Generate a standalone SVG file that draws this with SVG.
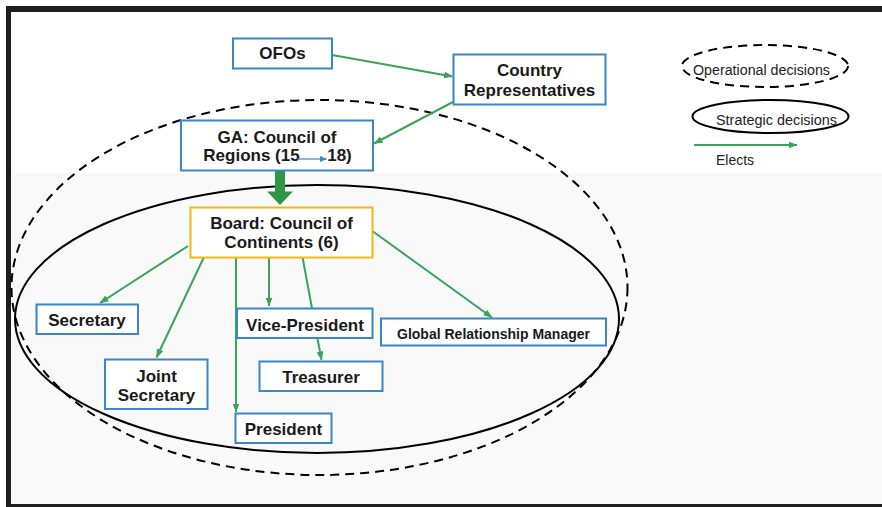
<svg xmlns="http://www.w3.org/2000/svg" width="882" height="507" viewBox="0 0 882 507">
  <defs>
    <style>
      .box { fill: #ffffff; stroke: #3b86c8; stroke-width: 2; }
      .board { fill: #ffffff; stroke: #f0b81a; stroke-width: 2; }
      .lbl { font-family: "Liberation Sans", Arial, sans-serif; font-weight: bold; font-size: 17px; fill: #1a1a1a; text-anchor: middle; }
      .lbl-sm { font-family: "Liberation Sans", Arial, sans-serif; font-weight: bold; font-size: 14px; fill: #1a1a1a; text-anchor: middle; }
      .legend { font-family: "Liberation Sans", Arial, sans-serif; font-size: 14px; fill: #222222; }
      .elect { stroke: #3aa55a; stroke-width: 2; fill: none; marker-end: url(#head); }
      .oval { fill: none; stroke: #000000; stroke-width: 2; }
      .dashed { stroke-dasharray: 9 6; }
    </style>
    <marker id="head" markerUnits="userSpaceOnUse" markerWidth="9" markerHeight="7" refX="8.5" refY="3.5" orient="auto">
      <path d="M0,0 L9,3.5 L0,7 z" fill="#3aa55a"/>
    </marker>
    <marker id="bluehead" markerUnits="userSpaceOnUse" markerWidth="7" markerHeight="6" refX="6.5" refY="3" orient="auto">
      <path d="M0,0 L7,3 L0,6 z" fill="#3b86c8"/>
    </marker>
  </defs>

  <!-- page background and frame -->
  <rect x="0" y="0" width="882" height="507" fill="#ffffff"/>
  <rect x="11" y="173" width="871" height="331" fill="#f9f9f9"/>
  <rect x="6" y="6" width="876" height="6" fill="#1e1e1e"/>
  <rect x="6" y="6" width="5" height="501" fill="#1e1e1e"/>
  <rect x="6" y="504" width="876" height="3" fill="#1e1e1e"/>

  <!-- decision scopes -->
  <g id="scopes">
    <ellipse class="oval dashed" cx="319.5" cy="287.5" rx="308" ry="187.5"/>
    <ellipse class="oval" cx="317" cy="319" rx="302" ry="134"/>
  </g>

  <!-- election links -->
  <g id="connectors">
    <line class="elect" x1="332" y1="55" x2="452.5" y2="76.5"/>
    <line class="elect" x1="453" y1="102" x2="374" y2="143.5"/>
    <line class="elect" x1="188" y1="246" x2="100" y2="303"/>
    <line class="elect" x1="204" y1="257" x2="156.5" y2="357.5"/>
    <line class="elect" x1="236" y1="257" x2="236" y2="412"/>
    <line class="elect" x1="269" y1="257" x2="269" y2="306"/>
    <line class="elect" x1="302.5" y1="257" x2="321.5" y2="360"/>
    <line class="elect" x1="373" y1="231.5" x2="492" y2="317.5"/>
    <!-- GA forms the Board -->
    <path id="ga-to-board" d="M275,171 L285,171 L285,191.5 L293,191.5 L280,205 L267,191.5 L275,191.5 z" fill="#2f9644"/>
  </g>

  <g id="ofos">
    <rect class="box" x="233" y="38.5" width="99" height="30"/>
    <text class="lbl" x="282.5" y="59">OFOs</text>
  </g>

  <g id="country-representatives">
    <rect class="box" x="453.5" y="54.5" width="152" height="50"/>
    <text class="lbl" x="529.5" y="76">Country</text>
    <text class="lbl" x="529.5" y="96">Representatives</text>
  </g>

  <g id="general-assembly">
    <rect class="box" x="181" y="120.5" width="192" height="50"/>
    <text class="lbl" x="277" y="143">GA: Council of</text>
    <text class="lbl" y="161"><tspan x="251.5">Regions (15</tspan><tspan x="339.5">18)</tspan></text>
    <line x1="297" y1="159" x2="326.5" y2="159" stroke="#3b86c8" stroke-width="1.2" marker-end="url(#bluehead)"/>
  </g>

  <g id="board">
    <rect class="board" x="190.5" y="207.5" width="182" height="50"/>
    <text class="lbl" x="281.5" y="229">Board: Council of</text>
    <text class="lbl" x="281.5" y="247.5">Continents (6)</text>
  </g>

  <g id="secretary">
    <rect class="box" x="36.5" y="304.5" width="101.5" height="29.5"/>
    <text class="lbl" x="87" y="326">Secretary</text>
  </g>

  <g id="joint-secretary">
    <rect class="box" x="105" y="359.5" width="102.5" height="49.5"/>
    <text class="lbl" x="156.5" y="381.5">Joint</text>
    <text class="lbl" x="156.5" y="401">Secretary</text>
  </g>

  <g id="vice-president">
    <rect class="box" x="237" y="308.5" width="135.5" height="29.5"/>
    <text class="lbl" x="305" y="330.5">Vice-President</text>
  </g>

  <g id="treasurer">
    <rect class="box" x="259.5" y="361.5" width="123" height="29.5"/>
    <text class="lbl" x="321" y="383">Treasurer</text>
  </g>

  <g id="president">
    <rect class="box" x="235.5" y="413.5" width="96" height="29.5"/>
    <text class="lbl" x="283.5" y="435">President</text>
  </g>

  <g id="global-relationship-manager">
    <rect class="box" x="381" y="318.5" width="225" height="27"/>
    <text class="lbl-sm" x="493.5" y="338.5">Global Relationship Manager</text>
  </g>

  <!-- key -->
  <g id="legend">
    <ellipse class="oval dashed" cx="765" cy="66" rx="83" ry="21"/>
    <text class="legend" x="693" y="74.5" textLength="137" lengthAdjust="spacingAndGlyphs">Operational decisions</text>
    <ellipse class="oval" cx="770.5" cy="116.5" rx="78" ry="16.5"/>
    <text class="legend" x="716" y="124.5" textLength="121" lengthAdjust="spacingAndGlyphs">Strategic decisions</text>
    <line class="elect" x1="694" y1="145" x2="797" y2="145"/>
    <text class="legend" x="716" y="164.5">Elects</text>
  </g>
</svg>
